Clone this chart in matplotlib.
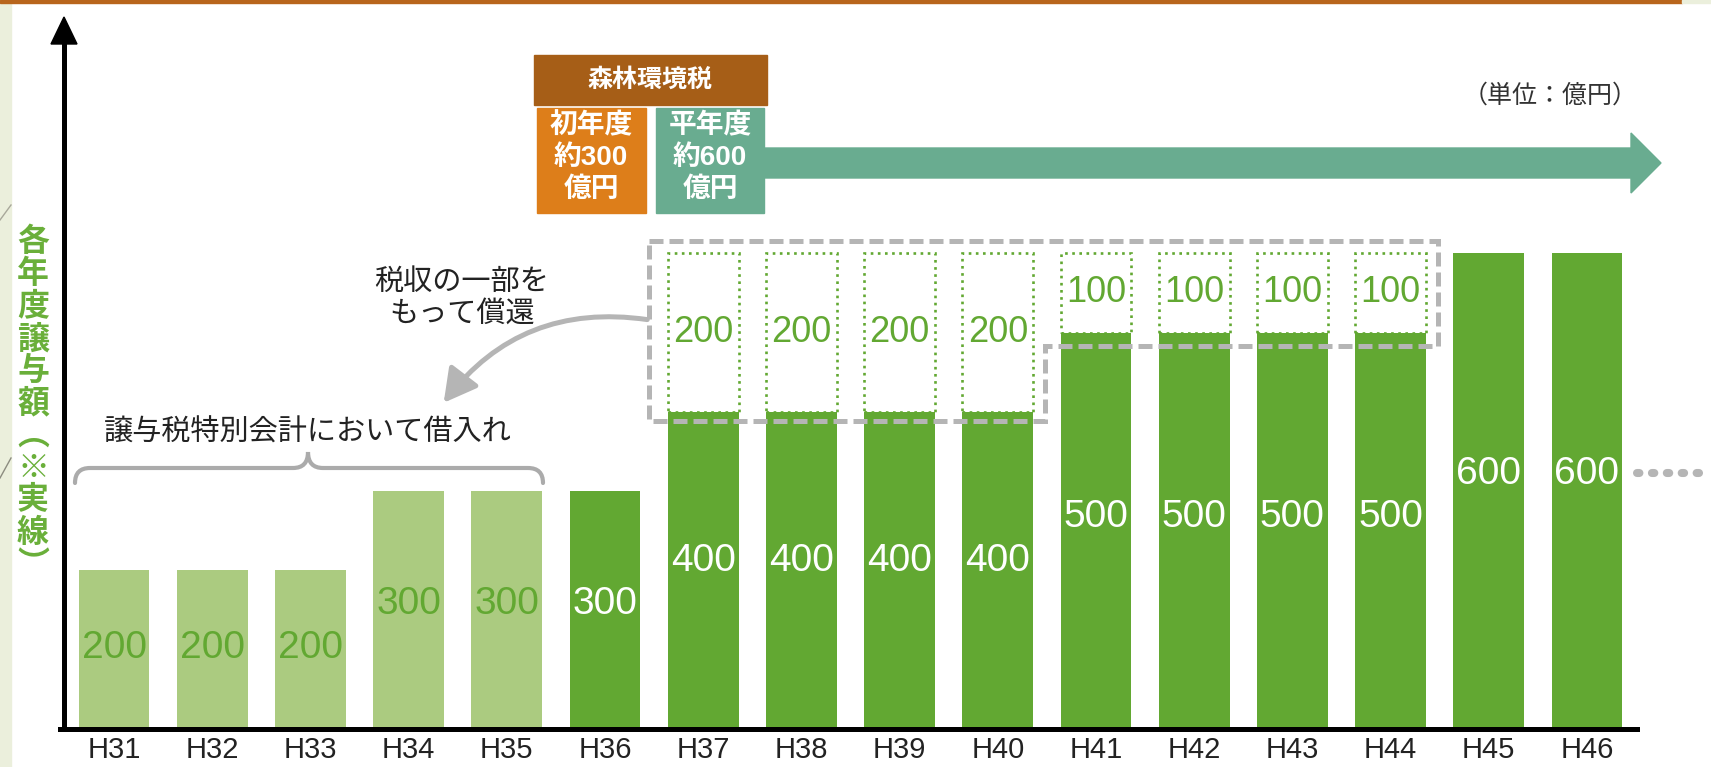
import numpy as np
import matplotlib
matplotlib.use("Agg")
import matplotlib.pyplot as plt
from matplotlib.patches import Rectangle, Polygon, FancyArrowPatch, PathPatch
from matplotlib.path import Path

plt.rcParams['font.family'] = ['Liberation Sans', 'Noto Sans CJK JP']

# data
years = ['H31', 'H32', 'H33', 'H34', 'H35', 'H36', 'H37', 'H38',
         'H39', 'H40', 'H41', 'H42', 'H43', 'H44', 'H45', 'H46']
values = [200, 200, 200, 300, 300, 300, 400, 400, 400, 400, 500, 500, 500, 500, 600, 600]
loan = [True, True, True, True, True] + [False] * 11      # borrowed in special account
repay = [0, 0, 0, 0, 0, 0, 200, 200, 200, 200, 100, 100, 100, 100, 0, 0]

ylabel = '各年度譲与額︵※実線︶'
unit = '（単位：億円）'
tax_title = '森林環境税'
first_year = '初年度\n約300\n億円'
normal_year = '平年度\n約600\n億円'
loan_text = '譲与税特別会計において借入れ'
repay_text = '税収の一部を\nもって償還'

dark = '#62A832'
light = '#ABCB80'
grey = '#B5B5B5'

W, H = 1711, 767
fig = plt.figure(figsize=(W / 100, H / 100), dpi=100)
ax = fig.add_axes([64 / W, 38 / H, (W - 64) / W, 729 / H])

# pixel -> data helpers (for annotations only)
def dx(px):
    return (px - 114) / 98.2

def dy(py):
    return (729 - py) / 0.793

ax.set_xlim(dx(64), dx(W))
ax.set_ylim(0, dy(0))

x = np.arange(len(years))
colors = [light if l else dark for l in loan]
ax.bar(x, values, width=0.723, color=colors, zorder=2)

# repayment part (dotted boxes)
for i, (v, r) in enumerate(zip(values, repay)):
    if r > 0:
        ax.add_patch(Rectangle((i - 0.3615, v), 0.723, r, fill=False,
                               edgecolor=dark, lw=1.9, linestyle=(0, (1, 1.7)), zorder=3))
        ax.text(i, v + r / 2, str(r), ha='center', va='center', fontsize=26,
                color=dark, zorder=4)

for i, (v, l) in enumerate(zip(values, loan)):
    ax.text(i, v * 0.55 - 8, str(v), ha='center', va='center', fontsize=28,
            color=dark if l else 'white', zorder=4)

# axes
for s in ['top', 'right']:
    ax.spines[s].set_visible(False)
ax.spines['left'].set_linewidth(3.6)
ax.spines['bottom'].set_linewidth(3.6)
ax.spines['left'].set_bounds(0, dy(40))
ax.spines['bottom'].set_bounds(dx(60), dx(1637))
ax.set_yticks([])
ax.set_xticks(x, years)
ax.tick_params(axis='x', length=0, labelsize=21, pad=5, labelcolor='#222222')
ax.add_patch(Polygon([(dx(51), dy(44)), (dx(64), dy(17)), (dx(77), dy(44))],
                     closed=True, color='black', clip_on=False, zorder=5))

# grey dashed frame around repayment
frame = [(dx(649), dy(241)), (dx(1438), dy(241)), (dx(1438), dy(346)),
         (dx(1045), dy(346)), (dx(1045), dy(421)), (dx(649), dy(421))]
ax.add_patch(Polygon(frame, closed=True, fill=False, edgecolor=grey, lw=3.6,
                     linestyle=(0, (2.8, 1.2)), zorder=5))

# curved arrow
ax.add_patch(FancyArrowPatch((dx(650), dy(320)), (dx(442), dy(405)),
                             connectionstyle='arc3,rad=0.3',
                             arrowstyle='-|>,head_length=1.0,head_width=0.55',
                             mutation_scale=20, color=grey, lw=3.6, zorder=5))
ax.text(dx(462), dy(298), repay_text, ha='center', va='center', fontsize=21,
        color='#222222', linespacing=1.15)

# brace
pts = [(75, 483), (75, 468), (90, 468), (293, 468), (308, 468), (308, 452),
       (308, 468), (323, 468), (528, 468), (543, 468), (543, 483)]
codes = [Path.MOVETO, Path.CURVE3, Path.CURVE3, Path.LINETO, Path.CURVE3, Path.CURVE3,
         Path.CURVE3, Path.CURVE3, Path.LINETO, Path.CURVE3, Path.CURVE3]
brace = Path([(dx(a), dy(b)) for a, b in pts], codes)
ax.add_patch(PathPatch(brace, fill=False, edgecolor='#ABABAB', lw=3, capstyle='round'))
ax.text(dx(308), dy(433), loan_text, ha='center', va='center', fontsize=21,
        color='#222222')

# header boxes
ax.add_patch(Rectangle((dx(534), dy(105)), dx(767) - dx(534), dy(55) - dy(105),
                       color='#A65E17', zorder=3))
ax.text(dx(650), dy(80), tax_title, ha='center', va='center', fontsize=18,
        fontweight='bold', color='white', zorder=4)
ax.add_patch(Rectangle((dx(537), dy(213)), dx(646) - dx(537), dy(108) - dy(213),
                       color='#DD7E1A', zorder=3))
ax.text(dx(591), dy(158), first_year, ha='center', va='center', fontsize=20,
        fontweight='bold', color='white', linespacing=1.3, zorder=4)
ax.add_patch(Rectangle((dx(656), dy(213)), dx(764) - dx(656), dy(108) - dy(213),
                       color='#69AC90', zorder=3))
ax.text(dx(710), dy(158), normal_year, ha='center', va='center', fontsize=20,
        fontweight='bold', color='white', linespacing=1.3, zorder=4)
arrow = [(763, 148), (1631, 148), (1631, 133), (1661, 163), (1631, 193), (1631, 178), (763, 178)]
ax.add_patch(Polygon([(dx(a), dy(b)) for a, b in arrow], closed=True,
                     color='#69AC90', zorder=3))

ax.text(dx(1550), dy(96), unit, ha='center', va='center', fontsize=18, color='#333333')

# continuation dots
ax.plot([dx(1637), dx(1703)], [dy(473), dy(473)], color=grey, lw=5.8,
        linestyle=(0, (0.3, 1.55)), dash_capstyle='round', solid_capstyle='round')

# vertical y label
for k, ch in enumerate(ylabel):
    fig.text(33 / W, 1 - (243 + k * 32.3) / H, ch, ha='center', va='center',
             fontsize=23, fontweight='bold', color='#6AAF3A')

# slide decoration
fig.patches.append(Rectangle((0, 0), 11 / W, 1, transform=fig.transFigure,
                             color='#EBEFDC', zorder=0))
fig.patches.append(Rectangle((0, 1 - 3 / H), 1682 / W, 3 / H, transform=fig.transFigure,
                             color='#B8651C', zorder=1))
fig.patches.append(Rectangle((1682 / W, 1 - 3 / H), 29 / W, 3 / H, transform=fig.transFigure,
                             color='#EBEFDC', zorder=1))
fig.lines.append(plt.Line2D([0, 11 / W], [1 - 220 / H, 1 - 205 / H],
                            transform=fig.transFigure, color='#A8A89A', lw=1))
fig.lines.append(plt.Line2D([0, 11 / W], [1 - 478 / H, 1 - 458 / H],
                            transform=fig.transFigure, color='#8C8C80', lw=1))

fig.savefig('out.png', dpi=100)
